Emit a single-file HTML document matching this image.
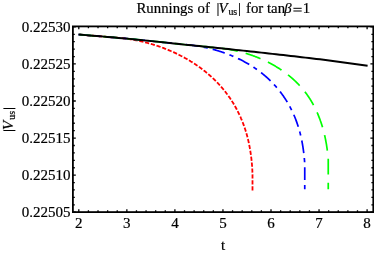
<!DOCTYPE html>
<html><head><meta charset="utf-8"><title>Runnings of |Vus|</title>
<style>
html,body{margin:0;padding:0;background:#fff;}
body{width:374px;height:253px;overflow:hidden;}
svg{display:block;will-change:transform;}
text{font-family:"Liberation Serif",serif;font-size:15.0px;fill:#000;stroke:#000;stroke-width:0.2px;}
.t text{font-size:14.8px;}
</style></head><body>
<svg width="374" height="253" viewBox="0 0 374 253">
<rect width="374" height="253" fill="#fff"/>
<g fill="none" stroke-linecap="butt" stroke-linejoin="round">
<path d="M78.40 34.52 L79.03 34.58 L79.65 34.63 L80.28 34.68 L80.91 34.73 L81.53 34.78 L82.16 34.83 L82.79 34.88 L83.41 34.93 L84.04 34.98 L84.67 35.04 L85.29 35.09 L85.92 35.14 L86.55 35.19 L87.17 35.24 L87.80 35.29 L88.43 35.34 L89.05 35.40 L89.68 35.45 L90.31 35.50 L90.93 35.55 L91.56 35.60 L92.19 35.66 L92.81 35.71 L93.44 35.76 L94.07 35.81 L94.69 35.87 L95.32 35.92 L95.95 35.97 L96.57 36.02 L97.20 36.07 L97.83 36.13 L98.45 36.18 L99.08 36.23 L99.71 36.29 L100.33 36.34 L100.96 36.39 L101.59 36.44 L102.21 36.50 L102.84 36.55 L103.47 36.60 L104.09 36.66 L104.72 36.71 L105.35 36.76 L105.97 36.82 L106.60 36.87 L107.23 36.92 L107.85 36.98 L108.48 37.03 L109.11 37.09 L109.73 37.14 L110.36 37.19 L110.99 37.25 L111.61 37.30 L112.24 37.36 L112.87 37.41 L113.49 37.46 L114.12 37.52 L114.75 37.57 L115.37 37.63 L116.09 37.66 L116.66 37.70 L117.22 37.74 L117.78 37.79 L118.34 37.84 L118.91 37.88 L119.47 37.93 L120.03 37.99 L120.60 38.04 L121.16 38.10 L121.73 38.16 L122.29 38.22 L122.85 38.28 L123.42 38.35 L123.98 38.41 L124.55 38.48 L125.11 38.55 L125.68 38.62 L126.24 38.70 L126.81 38.78 L127.37 38.85 L127.94 38.93 L128.51 39.02 L129.07 39.10 L129.64 39.19 L130.20 39.28 L130.77 39.37 L131.33 39.46 L131.90 39.55 L132.46 39.65 L133.03 39.75 L133.60 39.85 L134.16 39.95 L134.73 40.06 L135.29 40.16 L135.86 40.27 L136.42 40.38 L136.99 40.49 L137.55 40.61 L138.12 40.72 L138.68 40.84 L139.24 40.96 L139.81 41.08 L140.37 41.21 L140.94 41.33 L141.50 41.46 L142.06 41.59 L142.63 41.72 L143.19 41.86 L143.75 41.99 L144.31 42.13 L144.88 42.27 L145.44 42.41 L146.00 42.55 L146.56 42.70 L147.12 42.85 L147.68 43.00 L148.24 43.15 L148.80 43.30 L149.36 43.45 L149.92 43.61 L150.48 43.77 L151.04 43.93 L151.59 44.09 L152.15 44.26 L152.71 44.43 L153.26 44.59 L153.82 44.77 L154.37 44.94 L154.93 45.11 L155.48 45.29 L156.04 45.47 L156.59 45.65 L157.14 45.83 L157.70 46.01 L158.25 46.20 L158.80 46.39 L159.35 46.58 L159.90 46.77 L160.45 46.96 L161.00 47.16 L161.54 47.36 L162.09 47.56 L162.64 47.76 L163.18 47.96 L163.73 48.17 L164.27 48.37 L164.82 48.58 L165.36 48.79 L165.90 49.01 L166.45 49.22 L166.99 49.44 L167.53 49.66 L168.07 49.88 L168.61 50.10 L169.14 50.32 L169.68 50.55 L170.22 50.78 L170.75 51.01 L171.29 51.24 L171.82 51.47 L172.35 51.71 L172.89 51.95 L173.42 52.18 L173.95 52.43 L174.48 52.67 L175.00 52.91 L175.53 53.16 L176.06 53.41 L176.58 53.66 L177.11 53.91 L177.63 54.17 L178.16 54.42 L178.68 54.68 L179.20 54.94 L179.72 55.21 L180.24 55.47 L180.75 55.74 L181.27 56.00 L181.78 56.27 L182.30 56.54 L182.81 56.82 L183.32 57.09 L183.83 57.37 L184.34 57.65 L184.85 57.93 L185.36 58.21 L185.87 58.50 L186.37 58.78 L186.88 59.07 L187.38 59.36 L187.88 59.65 L188.38 59.95 L188.88 60.24 L189.38 60.54 L189.87 60.84 L190.37 61.14 L190.86 61.45 L191.36 61.75 L191.85 62.06 L192.34 62.37 L192.83 62.68 L193.31 62.99 L193.80 63.30 L194.28 63.62 L194.77 63.94 L195.25 64.26 L195.73 64.58 L196.21 64.90 L196.69 65.23 L197.16 65.56 L197.64 65.88 L198.11 66.22 L198.58 66.55 L199.05 66.88 L199.52 67.22 L199.99 67.56 L200.45 67.90 L200.92 68.24 L201.38 68.58 L201.84 68.93 L202.30 69.28 L202.76 69.63 L203.22 69.98 L203.67 70.33 L204.13 70.68 L204.58 71.04 L205.03 71.40 L205.48 71.76 L205.92 72.12 L206.37 72.49 L206.81 72.85 L207.25 73.22 L207.69 73.59 L208.13 73.96 L208.57 74.33 L209.00 74.71 L209.43 75.08 L209.87 75.46 L210.30 75.84 L210.72 76.22 L211.15 76.61 L211.57 76.99 L212.00 77.38 L212.42 77.77 L212.83 78.16 L213.25 78.55 L213.67 78.95 L214.08 79.35 L214.49 79.74 L214.90 80.14 L215.31 80.55 L215.71 80.95 L216.12 81.36 L216.52 81.76 L216.92 82.17 L217.31 82.58 L217.71 83.00 L218.10 83.41 L218.50 83.83 L218.88 84.24 L219.27 84.66 L219.66 85.09 L220.04 85.51 L220.42 85.93 L220.80 86.36 L221.18 86.79 L221.55 87.22 L221.93 87.65 L222.30 88.09 L222.67 88.52 L223.03 88.96 L223.40 89.40 L223.76 89.84 L224.12 90.28 L224.48 90.73 L224.84 91.17 L225.19 91.62 L225.54 92.07 L225.89 92.52 L226.24 92.97 L226.58 93.43 L226.93 93.88 L227.27 94.34 L227.61 94.80 L227.94 95.26 L228.28 95.72 L228.61 96.19 L228.94 96.65 L229.27 97.12 L229.59 97.59 L229.92 98.06 L230.24 98.53 L230.56 99.00 L230.88 99.48 L231.19 99.96 L231.50 100.43 L231.81 100.91 L232.11 101.39 L232.41 101.88 L232.71 102.36 L233.01 102.84 L233.31 103.33 L233.60 103.82 L233.89 104.31 L234.18 104.80 L234.47 105.29 L234.75 105.78 L235.03 106.28 L235.31 106.77 L235.59 107.27 L235.86 107.77 L236.14 108.27 L236.41 108.77 L236.68 109.27 L236.94 109.78 L237.21 110.28 L237.47 110.79 L237.73 111.30 L237.98 111.80 L238.24 112.31 L238.49 112.83 L238.74 113.34 L238.99 113.85 L239.23 114.37 L239.48 114.88 L239.72 115.40 L239.96 115.92 L240.19 116.44 L240.42 116.96 L240.66 117.48 L240.89 118.00 L241.11 118.53 L241.34 119.05 L241.56 119.58 L241.78 120.11 L242.00 120.64 L242.21 121.17 L242.42 121.70 L242.63 122.23 L242.84 122.76 L243.05 123.29 L243.25 123.83 L243.45 124.36 L243.65 124.90 L243.84 125.44 L244.04 125.98 L244.23 126.52 L244.42 127.06 L244.60 127.60 L244.79 128.14 L244.97 128.68 L245.15 129.23 L245.33 129.77 L245.50 130.32 L245.67 130.86 L245.84 131.41 L246.01 131.96 L246.17 132.51 L246.33 133.06 L246.49 133.61 L246.65 134.16 L246.81 134.72 L246.96 135.27 L247.11 135.82 L247.26 136.38 L247.40 136.93 L247.55 137.49 L247.69 138.05 L247.83 138.60 L247.96 139.16 L248.10 139.72 L248.23 140.28 L248.36 140.84 L248.49 141.40 L248.61 141.97 L248.73 142.53 L248.85 143.09 L248.97 143.66 L249.09 144.22 L249.20 144.78 L249.31 145.35 L249.42 145.92 L249.53 146.48 L249.64 147.05 L249.74 147.62 L249.84 148.19 L249.94 148.76 L250.03 149.33 L250.13 149.90 L250.22 150.47 L250.32 151.04 L250.41 151.61 L250.50 152.18 L250.59 152.75 L250.68 153.33 L250.76 153.90 L250.84 154.47 L250.92 155.05 L251.00 155.62 L251.08 156.20 L251.15 156.77 L251.22 157.35 L251.29 157.93 L251.36 158.50 L251.43 159.08 L251.49 159.66 L251.55 160.23 L251.62 160.81 L251.67 161.39 L251.73 161.97 L251.78 162.55 L251.84 163.13 L251.89 163.71 L251.94 164.29 L251.98 164.86 L252.03 165.44 L252.07 166.03 L252.11 166.61 L252.15 167.19 L252.19 167.77 L252.22 168.35 L252.26 168.93 L252.29 169.51 L252.32 170.09 L252.35 170.67 L252.37 171.26 L252.40 171.84 L252.42 172.42 L252.44 173.00 L252.46 173.59 L252.48 174.17 L252.50 174.75 L252.50 175.33 L252.50 175.91 L252.50 176.50 L252.50 177.08 L252.50 177.66 L252.50 178.25 L252.50 178.83 L252.50 179.41 L252.50 179.99 L252.50 180.58 L252.50 181.16 L252.50 181.74 L252.50 182.32 L252.50 182.91 L252.50 183.49 L252.50 184.07 L252.50 184.65 L252.50 185.23 L252.50 185.82 L252.50 186.40 L252.50 186.98 L252.50 187.56 L252.50 188.14 L252.50 188.72 L252.50 189.30 L252.50 189.88 L252.50 190.46" stroke="#ff0000" stroke-width="1.8" stroke-dasharray="4.2 1.75" stroke-dashoffset="4.16"/>
<path d="M78.40 34.52 L80.06 34.66 L81.72 34.79 L83.38 34.93 L85.04 35.07 L86.70 35.20 L88.36 35.34 L90.02 35.48 L91.68 35.61 L93.34 35.75 L95.00 35.89 L96.66 36.03 L98.32 36.17 L99.98 36.31 L101.64 36.45 L103.30 36.59 L104.96 36.73 L106.62 36.87 L108.28 37.01 L109.94 37.16 L111.60 37.30 L113.26 37.44 L114.92 37.59 L116.58 37.73 L118.24 37.88 L119.90 38.02 L121.56 38.17 L123.22 38.31 L124.88 38.46 L126.54 38.61 L128.20 38.75 L129.86 38.90 L131.52 39.06 L133.18 39.23 L134.84 39.40 L136.50 39.57 L138.16 39.73 L139.82 39.90 L141.48 40.07 L143.14 40.24 L144.80 40.41 L146.46 40.58 L148.12 40.75 L149.78 40.92 L151.44 41.09 L153.10 41.26 L154.76 41.44 L156.42 41.61 L158.08 41.78 L159.74 41.95 L161.40 42.13 L163.06 42.30 L164.72 42.48 L166.38 42.65 L168.04 42.83 L169.70 43.00 L171.36 43.18 L173.02 43.36 L174.68 43.53 L176.34 43.71 L178.02 44.11 L178.56 44.14 L179.11 44.16 L179.66 44.19 L180.20 44.21 L180.75 44.24 L181.30 44.28 L181.85 44.31 L182.39 44.35 L182.94 44.38 L183.49 44.42 L184.04 44.46 L184.58 44.51 L185.13 44.55 L185.68 44.60 L186.23 44.65 L186.78 44.70 L187.33 44.75 L187.87 44.80 L188.42 44.86 L188.97 44.92 L189.52 44.98 L190.07 45.04 L190.61 45.10 L191.16 45.17 L191.71 45.24 L192.26 45.31 L192.81 45.38 L193.35 45.45 L193.90 45.53 L194.45 45.60 L195.00 45.68 L195.54 45.76 L196.09 45.85 L196.64 45.93 L197.19 46.02 L197.73 46.11 L198.28 46.20 L198.83 46.29 L199.37 46.38 L199.92 46.48 L200.46 46.58 L201.01 46.68 L201.55 46.78 L202.10 46.88 L202.64 46.99 L203.19 47.09 L203.73 47.20 L204.27 47.31 L204.82 47.43 L205.36 47.54 L205.90 47.66 L206.44 47.78 L206.98 47.90 L207.52 48.02 L208.07 48.15 L208.61 48.27 L209.15 48.40 L209.69 48.53 L210.22 48.66 L210.76 48.80 L211.30 48.93 L211.84 49.07 L212.37 49.21 L212.91 49.35 L213.45 49.50 L213.98 49.64 L214.52 49.79 L215.05 49.94 L215.59 50.09 L216.12 50.24 L216.65 50.40 L217.18 50.55 L217.71 50.71 L218.24 50.87 L218.77 51.04 L219.30 51.20 L219.83 51.37 L220.36 51.54 L220.89 51.71 L221.41 51.88 L221.94 52.05 L222.46 52.23 L222.99 52.41 L223.51 52.59 L224.04 52.77 L224.56 52.95 L225.08 53.14 L225.60 53.33 L226.12 53.52 L226.64 53.71 L227.16 53.90 L227.67 54.10 L228.19 54.29 L228.70 54.49 L229.22 54.69 L229.73 54.90 L230.25 55.10 L230.76 55.31 L231.27 55.52 L231.78 55.73 L232.29 55.94 L232.79 56.16 L233.30 56.37 L233.81 56.59 L234.31 56.81 L234.82 57.03 L235.32 57.26 L235.82 57.49 L236.32 57.71 L236.82 57.94 L237.32 58.18 L237.82 58.41 L238.32 58.65 L238.81 58.88 L239.31 59.12 L239.80 59.37 L240.29 59.61 L240.78 59.86 L241.27 60.10 L241.76 60.35 L242.25 60.60 L242.73 60.86 L243.22 61.11 L243.70 61.37 L244.19 61.63 L244.67 61.89 L245.15 62.15 L245.63 62.42 L246.10 62.69 L246.58 62.96 L247.05 63.23 L247.53 63.50 L248.00 63.77 L248.47 64.05 L248.94 64.33 L249.41 64.61 L249.88 64.89 L250.34 65.18 L250.80 65.47 L251.27 65.75 L251.73 66.04 L252.19 66.34 L252.65 66.63 L253.10 66.93 L253.56 67.23 L254.01 67.53 L254.47 67.83 L254.92 68.13 L255.37 68.44 L255.81 68.75 L256.26 69.06 L256.71 69.37 L257.15 69.69 L257.59 70.00 L258.03 70.32 L258.47 70.64 L258.91 70.96 L259.34 71.29 L259.77 71.61 L260.21 71.94 L260.64 72.27 L261.07 72.60 L261.49 72.93 L261.92 73.27 L262.34 73.61 L262.76 73.95 L263.18 74.29 L263.60 74.63 L264.02 74.98 L264.43 75.33 L264.85 75.68 L265.26 76.03 L265.67 76.38 L266.08 76.74 L266.48 77.09 L266.89 77.45 L267.29 77.82 L267.69 78.18 L268.09 78.54 L268.48 78.91 L268.88 79.28 L269.27 79.65 L269.66 80.03 L270.05 80.40 L270.44 80.78 L270.82 81.16 L271.21 81.54 L271.59 81.92 L271.97 82.31 L272.35 82.70 L272.72 83.08 L273.09 83.48 L273.46 83.87 L273.83 84.26 L274.20 84.66 L274.57 85.06 L274.93 85.46 L275.29 85.86 L275.65 86.27 L276.01 86.67 L276.36 87.08 L276.72 87.49 L277.07 87.90 L277.42 88.32 L277.76 88.73 L278.11 89.15 L278.45 89.57 L278.79 89.99 L279.13 90.41 L279.47 90.84 L279.80 91.26 L280.14 91.69 L280.47 92.12 L280.79 92.55 L281.12 92.98 L281.44 93.42 L281.77 93.85 L282.09 94.29 L282.41 94.73 L282.72 95.17 L283.03 95.61 L283.35 96.06 L283.66 96.50 L283.96 96.95 L284.27 97.40 L284.57 97.85 L284.87 98.30 L285.17 98.76 L285.47 99.21 L285.76 99.67 L286.05 100.13 L286.34 100.59 L286.62 101.05 L286.91 101.51 L287.19 101.98 L287.46 102.44 L287.74 102.91 L288.01 103.38 L288.28 103.85 L288.55 104.32 L288.82 104.79 L289.08 105.26 L289.34 105.74 L289.60 106.22 L289.86 106.69 L290.12 107.17 L290.37 107.65 L290.62 108.14 L290.87 108.62 L291.12 109.10 L291.36 109.59 L291.60 110.08 L291.84 110.57 L292.08 111.06 L292.31 111.55 L292.55 112.04 L292.78 112.53 L293.01 113.03 L293.23 113.52 L293.46 114.02 L293.68 114.52 L293.90 115.02 L294.11 115.52 L294.33 116.02 L294.54 116.52 L294.75 117.03 L294.96 117.53 L295.16 118.04 L295.36 118.54 L295.56 119.05 L295.76 119.56 L295.96 120.07 L296.15 120.58 L296.34 121.10 L296.53 121.61 L296.72 122.12 L296.90 122.64 L297.08 123.16 L297.26 123.67 L297.44 124.19 L297.61 124.71 L297.78 125.23 L297.95 125.75 L298.12 126.27 L298.29 126.80 L298.45 127.32 L298.61 127.85 L298.77 128.37 L298.93 128.90 L299.08 129.42 L299.23 129.95 L299.38 130.48 L299.53 131.01 L299.67 131.54 L299.82 132.07 L299.96 132.60 L300.10 133.14 L300.23 133.67 L300.37 134.21 L300.50 134.74 L300.63 135.28 L300.76 135.81 L300.88 136.35 L301.01 136.89 L301.13 137.43 L301.25 137.97 L301.36 138.51 L301.48 139.05 L301.59 139.59 L301.70 140.13 L301.81 140.67 L301.92 141.21 L302.02 141.76 L302.12 142.30 L302.23 142.85 L302.32 143.39 L302.42 143.94 L302.52 144.48 L302.61 145.03 L302.70 145.58 L302.79 146.13 L302.87 146.67 L302.96 147.22 L303.04 147.77 L303.12 148.32 L303.20 148.87 L303.28 149.42 L303.35 149.97 L303.43 150.52 L303.51 151.08 L303.58 151.63 L303.65 152.18 L303.72 152.73 L303.79 153.29 L303.86 153.84 L303.92 154.40 L303.98 154.95 L304.04 155.50 L304.10 156.06 L304.16 156.61 L304.21 157.17 L304.27 157.73 L304.32 158.28 L304.37 158.84 L304.42 159.39 L304.46 159.95 L304.51 160.51 L304.55 161.06 L304.59 161.62 L304.63 162.18 L304.67 162.74 L304.70 163.29 L304.74 163.85 L304.75 164.41 L304.75 164.97 L304.75 165.53 L304.75 166.08 L304.75 166.64 L304.75 167.20 L304.75 167.76 L304.75 168.32 L304.75 168.88 L304.75 169.43 L304.75 169.99 L304.75 170.55 L304.75 171.11 L304.75 171.67 L304.75 172.23 L304.75 172.79 L304.75 173.34 L304.75 173.90 L304.75 174.46 L304.75 175.02 L304.75 175.58 L304.75 176.13 L304.75 176.69 L304.75 177.25 L304.75 177.81 L304.75 178.37 L304.75 178.92 L304.75 179.48 L304.75 180.04 L304.75 180.59 L304.75 181.15 L304.75 181.71 L304.75 182.26 L304.75 182.82 L304.75 183.37 L304.75 183.93 L304.75 184.48 L304.75 185.04 L304.75 185.59 L304.75 186.15 L304.75 186.70 L304.75 187.25 L304.75 187.81 L304.75 188.36 L304.75 188.91 L304.75 189.46" stroke="#0000ff" stroke-width="1.7" stroke-dasharray="12.7 5.0 4.2 5.1" stroke-dashoffset="26.78"/>
<path d="M78.40 34.52 L80.59 34.70 L82.79 34.88 L84.98 35.06 L87.17 35.24 L89.37 35.42 L91.56 35.60 L93.75 35.79 L95.95 35.97 L98.14 36.15 L100.33 36.34 L102.53 36.52 L104.72 36.71 L106.91 36.90 L109.11 37.09 L111.30 37.27 L113.49 37.46 L115.69 37.65 L117.88 37.84 L120.07 38.04 L122.27 38.23 L124.46 38.42 L126.65 38.62 L128.85 38.81 L131.04 39.02 L133.23 39.24 L135.43 39.46 L137.62 39.68 L139.81 39.90 L142.01 40.12 L144.20 40.35 L146.39 40.57 L148.59 40.80 L150.78 41.02 L152.97 41.25 L155.17 41.48 L157.36 41.71 L159.55 41.93 L161.75 42.16 L163.94 42.40 L166.13 42.63 L168.33 42.86 L170.52 43.09 L172.71 43.32 L174.91 43.56 L177.10 43.79 L179.29 44.03 L181.49 44.27 L183.68 44.50 L185.87 44.74 L188.07 44.96 L190.26 45.18 L192.45 45.39 L194.65 45.61 L196.84 45.83 L199.03 46.05 L201.23 46.27 L203.42 46.49 L205.61 46.72 L207.81 46.94 L210.02 47.35 L210.54 47.37 L211.07 47.39 L211.59 47.42 L212.11 47.44 L212.63 47.47 L213.15 47.50 L213.68 47.54 L214.20 47.57 L214.72 47.61 L215.24 47.65 L215.77 47.69 L216.29 47.73 L216.82 47.78 L217.34 47.82 L217.86 47.87 L218.39 47.92 L218.91 47.98 L219.44 48.03 L219.96 48.09 L220.48 48.15 L221.01 48.21 L221.53 48.27 L222.06 48.33 L222.58 48.40 L223.11 48.47 L223.63 48.54 L224.15 48.61 L224.68 48.68 L225.20 48.76 L225.73 48.84 L226.25 48.92 L226.78 49.00 L227.30 49.09 L227.82 49.17 L228.35 49.26 L228.87 49.35 L229.39 49.44 L229.92 49.53 L230.44 49.63 L230.96 49.73 L231.49 49.83 L232.01 49.93 L232.53 50.03 L233.05 50.14 L233.57 50.24 L234.09 50.35 L234.62 50.46 L235.14 50.58 L235.66 50.69 L236.18 50.81 L236.70 50.93 L237.22 51.05 L237.74 51.17 L238.26 51.30 L238.77 51.42 L239.29 51.55 L239.81 51.68 L240.33 51.82 L240.84 51.95 L241.36 52.09 L241.88 52.22 L242.39 52.36 L242.91 52.51 L243.42 52.65 L243.93 52.80 L244.45 52.94 L244.96 53.09 L245.47 53.25 L245.98 53.40 L246.50 53.55 L247.01 53.71 L247.52 53.87 L248.03 54.03 L248.53 54.20 L249.04 54.36 L249.55 54.53 L250.06 54.70 L250.56 54.87 L251.07 55.04 L251.57 55.21 L252.08 55.39 L252.58 55.57 L253.08 55.75 L253.58 55.93 L254.09 56.12 L254.59 56.30 L255.09 56.49 L255.58 56.68 L256.08 56.87 L256.58 57.07 L257.08 57.26 L257.57 57.46 L258.06 57.66 L258.56 57.86 L259.05 58.06 L259.54 58.27 L260.03 58.47 L260.52 58.68 L261.01 58.89 L261.50 59.11 L261.99 59.32 L262.47 59.54 L262.96 59.76 L263.44 59.98 L263.93 60.20 L264.41 60.42 L264.89 60.65 L265.37 60.88 L265.85 61.11 L266.33 61.34 L266.80 61.57 L267.28 61.81 L267.75 62.04 L268.23 62.28 L268.70 62.52 L269.17 62.77 L269.64 63.01 L270.11 63.26 L270.58 63.51 L271.04 63.76 L271.51 64.01 L271.97 64.26 L272.43 64.52 L272.90 64.78 L273.36 65.04 L273.81 65.30 L274.27 65.56 L274.73 65.83 L275.18 66.09 L275.64 66.36 L276.09 66.63 L276.54 66.91 L276.99 67.18 L277.44 67.46 L277.88 67.74 L278.33 68.02 L278.77 68.30 L279.22 68.58 L279.66 68.87 L280.10 69.16 L280.53 69.45 L280.97 69.74 L281.41 70.03 L281.84 70.33 L282.27 70.62 L282.70 70.92 L283.13 71.22 L283.56 71.53 L283.98 71.83 L284.41 72.14 L284.83 72.44 L285.25 72.75 L285.67 73.07 L286.09 73.38 L286.51 73.70 L286.92 74.01 L287.33 74.33 L287.74 74.65 L288.15 74.98 L288.56 75.30 L288.97 75.63 L289.37 75.96 L289.77 76.29 L290.17 76.62 L290.57 76.95 L290.97 77.29 L291.37 77.63 L291.76 77.96 L292.15 78.31 L292.54 78.65 L292.93 78.99 L293.31 79.34 L293.70 79.69 L294.08 80.04 L294.46 80.39 L294.84 80.75 L295.22 81.10 L295.59 81.46 L295.96 81.82 L296.33 82.18 L296.70 82.54 L297.07 82.91 L297.44 83.28 L297.80 83.65 L298.16 84.02 L298.52 84.39 L298.87 84.76 L299.23 85.14 L299.58 85.52 L299.93 85.90 L300.28 86.28 L300.63 86.66 L300.97 87.05 L301.31 87.43 L301.65 87.82 L301.99 88.21 L302.32 88.60 L302.66 89.00 L302.99 89.39 L303.32 89.79 L303.64 90.19 L303.97 90.59 L304.29 91.00 L304.61 91.40 L304.93 91.81 L305.24 92.22 L305.55 92.63 L305.86 93.04 L306.17 93.45 L306.48 93.87 L306.78 94.29 L307.08 94.71 L307.38 95.13 L307.68 95.55 L307.98 95.97 L308.27 96.40 L308.56 96.83 L308.85 97.26 L309.13 97.69 L309.42 98.12 L309.70 98.55 L309.98 98.99 L310.25 99.43 L310.53 99.87 L310.80 100.31 L311.06 100.75 L311.33 101.19 L311.59 101.64 L311.85 102.08 L312.11 102.53 L312.36 102.98 L312.62 103.43 L312.87 103.88 L313.12 104.34 L313.37 104.79 L313.61 105.25 L313.85 105.71 L314.09 106.17 L314.33 106.63 L314.57 107.09 L314.80 107.55 L315.04 108.02 L315.26 108.48 L315.49 108.95 L315.72 109.42 L315.94 109.89 L316.16 110.36 L316.38 110.83 L316.60 111.31 L316.81 111.78 L317.03 112.26 L317.24 112.74 L317.45 113.22 L317.65 113.70 L317.86 114.18 L318.06 114.66 L318.26 115.14 L318.46 115.63 L318.65 116.11 L318.85 116.60 L319.04 117.09 L319.23 117.58 L319.42 118.07 L319.61 118.56 L319.79 119.05 L319.97 119.54 L320.15 120.04 L320.33 120.53 L320.50 121.03 L320.68 121.52 L320.85 122.02 L321.02 122.52 L321.19 123.02 L321.35 123.52 L321.52 124.02 L321.68 124.53 L321.84 125.03 L322.00 125.53 L322.15 126.04 L322.31 126.55 L322.46 127.05 L322.61 127.56 L322.75 128.07 L322.90 128.58 L323.04 129.09 L323.19 129.60 L323.33 130.11 L323.46 130.63 L323.60 131.14 L323.74 131.65 L323.87 132.17 L324.00 132.68 L324.13 133.20 L324.25 133.72 L324.38 134.23 L324.50 134.75 L324.62 135.27 L324.74 135.79 L324.86 136.31 L324.97 136.83 L325.09 137.35 L325.20 137.87 L325.31 138.40 L325.41 138.92 L325.52 139.44 L325.62 139.97 L325.73 140.49 L325.83 141.02 L325.92 141.54 L326.02 142.07 L326.12 142.59 L326.21 143.12 L326.30 143.65 L326.39 144.17 L326.48 144.70 L326.56 145.23 L326.64 145.76 L326.73 146.29 L326.81 146.82 L326.88 147.35 L326.96 147.88 L327.04 148.41 L327.11 148.94 L327.18 149.47 L327.25 150.00 L327.32 150.53 L327.39 151.07 L327.46 151.60 L327.53 152.13 L327.59 152.66 L327.65 153.20 L327.71 153.73 L327.77 154.26 L327.83 154.80 L327.89 155.33 L327.94 155.86 L327.99 156.40 L328.05 156.93 L328.09 157.47 L328.14 158.00 L328.19 158.53 L328.23 159.07 L328.25 159.60 L328.25 160.14 L328.25 160.67 L328.25 161.21 L328.25 161.74 L328.25 162.27 L328.25 162.81 L328.25 163.34 L328.25 163.88 L328.25 164.41 L328.25 164.95 L328.25 165.48 L328.25 166.01 L328.25 166.55 L328.25 167.08 L328.25 167.61 L328.25 168.15 L328.25 168.68 L328.25 169.21 L328.25 169.75 L328.25 170.28 L328.25 170.81 L328.25 171.34 L328.25 171.88 L328.25 172.41 L328.25 172.94 L328.25 173.47 L328.25 174.00 L328.25 174.53 L328.25 175.06 L328.25 175.59 L328.25 176.12 L328.25 176.65 L328.25 177.18 L328.25 177.71 L328.25 178.24 L328.25 178.76 L328.25 179.29 L328.25 179.82 L328.25 180.35 L328.25 180.87 L328.25 181.40 L328.25 181.92 L328.25 182.45 L328.25 182.97 L328.25 183.49 L328.25 184.02 L328.25 184.54 L328.25 185.06 L328.25 185.58 L328.25 186.10 L328.25 186.62 L328.25 187.14 L328.25 187.66 L328.25 188.18 L328.25 188.70 L328.25 189.21" stroke="#00ff00" stroke-width="1.7" stroke-dasharray="15.75 8.2" stroke-dashoffset="23.10"/>
<path d="M78.40 34.52 L82.06 34.82 L85.72 35.12 L89.38 35.42 L93.04 35.73 L96.70 36.03 L100.36 36.34 L104.03 36.65 L107.69 36.96 L111.35 37.28 L115.01 37.59 L118.67 37.91 L122.33 38.23 L125.99 38.56 L129.65 38.88 L133.31 39.24 L136.97 39.61 L140.63 39.98 L144.29 40.36 L147.95 40.73 L151.62 41.11 L155.28 41.49 L158.94 41.87 L162.60 42.25 L166.26 42.64 L169.92 43.03 L173.58 43.42 L177.24 43.81 L180.90 44.20 L184.56 44.60 L188.22 44.98 L191.88 45.34 L195.54 45.70 L199.21 46.07 L202.87 46.44 L206.53 46.81 L210.19 47.18 L213.85 47.56 L217.51 47.94 L221.17 48.32 L224.83 48.70 L228.49 49.08 L232.15 49.47 L235.81 49.86 L239.47 50.25 L243.13 50.64 L246.79 51.03 L250.46 51.43 L254.12 51.83 L257.78 52.23 L261.44 52.63 L265.10 53.03 L268.76 53.44 L272.42 53.85 L276.08 54.26 L279.74 54.67 L283.40 55.08 L287.06 55.50 L290.72 55.92 L294.38 56.34 L298.05 56.76 L301.71 57.19 L305.37 57.61 L309.03 58.04 L312.69 58.47 L316.35 58.91 L320.01 59.34 L323.67 59.82 L327.33 60.29 L330.99 60.77 L334.65 61.25 L338.31 61.73 L341.97 62.22 L345.64 62.71 L349.30 63.19 L352.96 63.69 L356.62 64.18 L360.28 64.67 L363.94 65.17 L367.60 65.67" stroke="#000" stroke-width="1.95"/>
</g>
<path d="M78.80 212.10 v-2.90 M78.80 26.40 v2.90 M88.41 212.10 v-1.90 M88.41 26.40 v1.90 M98.02 212.10 v-1.90 M98.02 26.40 v1.90 M107.63 212.10 v-1.90 M107.63 26.40 v1.90 M117.24 212.10 v-1.90 M117.24 26.40 v1.90 M126.85 212.10 v-2.90 M126.85 26.40 v2.90 M136.46 212.10 v-1.90 M136.46 26.40 v1.90 M146.07 212.10 v-1.90 M146.07 26.40 v1.90 M155.68 212.10 v-1.90 M155.68 26.40 v1.90 M165.29 212.10 v-1.90 M165.29 26.40 v1.90 M174.90 212.10 v-2.90 M174.90 26.40 v2.90 M184.51 212.10 v-1.90 M184.51 26.40 v1.90 M194.12 212.10 v-1.90 M194.12 26.40 v1.90 M203.73 212.10 v-1.90 M203.73 26.40 v1.90 M213.34 212.10 v-1.90 M213.34 26.40 v1.90 M222.95 212.10 v-2.90 M222.95 26.40 v2.90 M232.56 212.10 v-1.90 M232.56 26.40 v1.90 M242.17 212.10 v-1.90 M242.17 26.40 v1.90 M251.78 212.10 v-1.90 M251.78 26.40 v1.90 M261.39 212.10 v-1.90 M261.39 26.40 v1.90 M271.00 212.10 v-2.90 M271.00 26.40 v2.90 M280.61 212.10 v-1.90 M280.61 26.40 v1.90 M290.22 212.10 v-1.90 M290.22 26.40 v1.90 M299.83 212.10 v-1.90 M299.83 26.40 v1.90 M309.44 212.10 v-1.90 M309.44 26.40 v1.90 M319.05 212.10 v-2.90 M319.05 26.40 v2.90 M328.66 212.10 v-1.90 M328.66 26.40 v1.90 M338.27 212.10 v-1.90 M338.27 26.40 v1.90 M347.88 212.10 v-1.90 M347.88 26.40 v1.90 M357.49 212.10 v-1.90 M357.49 26.40 v1.90 M367.10 212.10 v-2.90 M367.10 26.40 v2.90 M72.90 212.20 h2.90 M373.30 212.20 h-2.90 M72.90 204.79 h1.90 M373.30 204.79 h-1.90 M72.90 197.38 h1.90 M373.30 197.38 h-1.90 M72.90 189.96 h1.90 M373.30 189.96 h-1.90 M72.90 182.55 h1.90 M373.30 182.55 h-1.90 M72.90 175.14 h2.90 M373.30 175.14 h-2.90 M72.90 167.73 h1.90 M373.30 167.73 h-1.90 M72.90 160.32 h1.90 M373.30 160.32 h-1.90 M72.90 152.90 h1.90 M373.30 152.90 h-1.90 M72.90 145.49 h1.90 M373.30 145.49 h-1.90 M72.90 138.08 h2.90 M373.30 138.08 h-2.90 M72.90 130.67 h1.90 M373.30 130.67 h-1.90 M72.90 123.26 h1.90 M373.30 123.26 h-1.90 M72.90 115.84 h1.90 M373.30 115.84 h-1.90 M72.90 108.43 h1.90 M373.30 108.43 h-1.90 M72.90 101.02 h2.90 M373.30 101.02 h-2.90 M72.90 93.61 h1.90 M373.30 93.61 h-1.90 M72.90 86.20 h1.90 M373.30 86.20 h-1.90 M72.90 78.78 h1.90 M373.30 78.78 h-1.90 M72.90 71.37 h1.90 M373.30 71.37 h-1.90 M72.90 63.96 h2.90 M373.30 63.96 h-2.90 M72.90 56.55 h1.90 M373.30 56.55 h-1.90 M72.90 49.14 h1.90 M373.30 49.14 h-1.90 M72.90 41.72 h1.90 M373.30 41.72 h-1.90 M72.90 34.31 h1.90 M373.30 34.31 h-1.90 M72.90 26.90 h2.90 M373.30 26.90 h-2.90" stroke="#000" stroke-width="1.3" fill="none"/>
<rect x="72.9" y="26.4" width="300.4" height="185.7" fill="none" stroke="#000" stroke-width="1.8"/>
<text x="70.5" y="217.2" text-anchor="end">0.22505</text>
<text x="70.5" y="180.1" text-anchor="end">0.22510</text>
<text x="70.5" y="143.1" text-anchor="end">0.22515</text>
<text x="70.5" y="106.0" text-anchor="end">0.22520</text>
<text x="70.5" y="69.0" text-anchor="end">0.22525</text>
<text x="70.5" y="31.9" text-anchor="end">0.22530</text>
<text x="78.8" y="228.4" text-anchor="middle">2</text>
<text x="126.8" y="228.4" text-anchor="middle">3</text>
<text x="174.9" y="228.4" text-anchor="middle">4</text>
<text x="222.9" y="228.4" text-anchor="middle">5</text>
<text x="271.0" y="228.4" text-anchor="middle">6</text>
<text x="319.1" y="228.4" text-anchor="middle">7</text>
<text x="367.1" y="228.4" text-anchor="middle">8</text>
<g class="t">
<text x="136.5" y="13.3">Runnings</text>
<text x="197.5" y="13.3">of</text>
<text x="216.5" y="13.3">|</text>
<text x="218.6" y="13.3" font-style="italic">V</text>
<text x="228.4" y="14.9" style="font-size:9.8px">us</text>
<text x="237.9" y="13.3">|</text>
<text x="246.0" y="13.3">for</text>
<text x="267.0" y="13.3">tan</text>
<text x="284.2" y="13.3" font-style="italic">β</text>
<path d="M293.4 8.3H301.7M293.4 11.0H301.7" stroke="#000" stroke-width="1" fill="none"/>
<text x="302.8" y="13.3">1</text>
</g>
<text x="223.2" y="249.6" text-anchor="middle">t</text>
<g transform="translate(13.2,119.8) rotate(-90)">
<text x="-10.3" y="0" font-style="italic">V</text>
<text x="0.1" y="1.6" style="font-size:9.8px">us</text>
</g>
<path d="M3.4 108.5H15.4M3.4 130.5H15.4" stroke="#000" stroke-width="1" fill="none"/>
</svg>
</body></html>
